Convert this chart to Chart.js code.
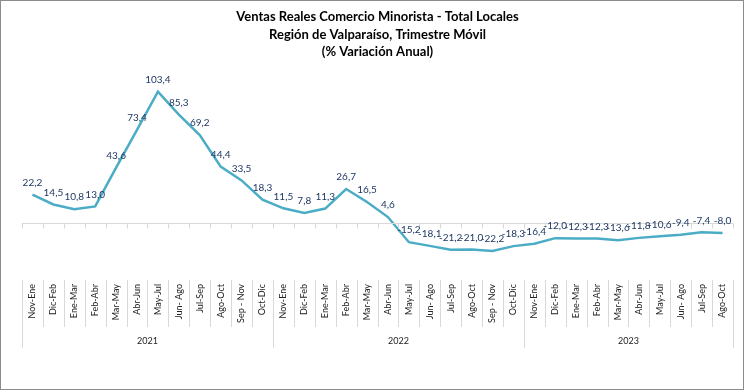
<!DOCTYPE html>
<html>
<head>
<meta charset="utf-8">
<script src="https://cdn.jsdelivr.net/npm/chart.js@4.4.1/dist/chart.umd.min.js"></script>
<style>
html,body{margin:0;padding:0;background:#fff;}
#wrap{width:744px;height:390px;position:relative;}
</style>
</head>
<body>
<div id="wrap"><canvas id="c" width="744" height="390"></canvas></div>
<script>
const titleLines = [
  "Ventas Reales Comercio Minorista - Total Locales",
  "Región de Valparaíso, Trimestre Móvil",
  "(% Variación Anual)"
];
const categories = [
  "Nov-Ene","Dic-Feb","Ene-Mar","Feb-Abr","Mar-May","Abr-Jun","May-Jul","Jun- Ago","Jul-Sep","Ago-Oct","Sep - Nov","Oct-Dic",
  "Nov-Ene","Dic-Feb","Ene-Mar","Feb-Abr","Mar-May","Abr-Jun","May-Jul","Jun- Ago","Jul-Sep","Ago-Oct","Sep - Nov","Oct-Dic",
  "Nov-Ene","Dic-Feb","Ene-Mar","Feb-Abr","Mar-May","Abr-Jun","May-Jul","Jun- Ago","Jul-Sep","Ago-Oct"
];
const years = ["2021","2022","2023"];
const yearCounts = [12, 12, 10];
const values = [
  22.2, 14.5, 10.8, 13.0, 43.6, 73.4, 103.4, 85.3, 69.2, 44.4, 33.5, 18.3,
  11.5, 7.8, 11.3, 26.7, 16.5, 4.6, -15.2, -18.1, -21.2, -21.0, -22.2, -18.3,
  -16.4, -12.0, -12.3, -12.3, -13.6, -11.8, -10.6, -9.4, -7.4, -8.0
];

const FONT = "Lato, 'Liberation Sans', sans-serif";
const GRID = "#d9d9d9";

const decor = {
  id: "decor",
  afterDatasetsDraw(chart) {
    const ctx = chart.ctx;
    const xs = chart.scales.x, ys = chart.scales.y;
    const n = categories.length;
    const w = (xs.getPixelForValue(1) - xs.getPixelForValue(0));
    const edge = i => xs.getPixelForValue(0) - w / 2 + i * w;
    const y0 = Math.round(ys.getPixelForValue(0)) + 0.5;
    const bottom = chart.chartArea.bottom;
    ctx.save();
    // zero line
    ctx.strokeStyle = GRID;
    ctx.lineWidth = 1;
    ctx.beginPath();
    ctx.moveTo(edge(0), y0);
    ctx.lineTo(edge(n), y0);
    for (let i = 0; i <= n; i++) {
      const x = Math.round(edge(i)) + 0.5;
      ctx.moveTo(x, y0);
      ctx.lineTo(x, y0 + 5);
    }
    ctx.stroke();
    // category separators in label area
    const boundaries = [0];
    let acc = 0;
    yearCounts.forEach(c => { acc += c; boundaries.push(acc); });
    ctx.beginPath();
    for (let i = 0; i <= n; i++) {
      const x = Math.round(edge(i)) + 0.5;
      const isB = boundaries.includes(i);
      ctx.moveTo(x, bottom);
      ctx.lineTo(x, isB ? bottom + 68 : bottom + 47);
    }
    ctx.stroke();
    // year labels
    ctx.fillStyle = "#222";
    ctx.font = "9px " + FONT;
    ctx.textAlign = "center";
    ctx.textBaseline = "middle";
    for (let g = 0; g < years.length; g++) {
      const cx = (edge(boundaries[g]) + edge(boundaries[g + 1])) / 2;
      ctx.fillText(years[g], cx, bottom + 61);
    }
    // data labels
    const meta = chart.getDatasetMeta(0);
    ctx.fillStyle = "#1f3864";
    ctx.font = "10px " + FONT;
    meta.data.forEach((pt, i) => {
      const txt = values[i].toFixed(1).replace(".", ",");
      ctx.fillText(txt, pt.x, pt.y - 12);
    });
    // outer border
    ctx.strokeStyle = "#8c8c8c";
    ctx.lineWidth = 1;
    ctx.strokeRect(0.5, 0.5, chart.width - 1, chart.height - 1);
    ctx.restore();
  }
};

new Chart(document.getElementById("c"), {
  type: "line",
  data: {
    labels: categories,
    datasets: [{
      data: values,
      borderColor: "#4bacc6",
      borderWidth: 2.5,
      pointRadius: 0,
      tension: 0,
      fill: false
    }]
  },
  options: {
    responsive: false,
    animation: false,
    layout: { padding: { left: 22, right: 11, top: 0, bottom: 0 } },
    plugins: {
      legend: { display: false },
      tooltip: { enabled: false },
      title: {
        display: true,
        text: titleLines,
        color: "#000",
        font: { family: FONT, size: 13, weight: "bold", lineHeight: 1.35 },
        padding: { top: 8, bottom: 10 }
      }
    },
    scales: {
      x: {
        type: "category",
        offset: true,
        grid: { display: false, drawTicks: false },
        border: { display: false },
        ticks: {
          minRotation: 90, maxRotation: 90, autoSkip: false,
          padding: 4,
          color: "#222",
          font: { family: FONT, size: 9 }
        },
        afterFit: s => { s.height = 110; }
      },
      y: {
        display: false,
        min: -45,
        max: 120
      }
    }
  },
  plugins: [decor]
});
</script>
</body>
</html>
